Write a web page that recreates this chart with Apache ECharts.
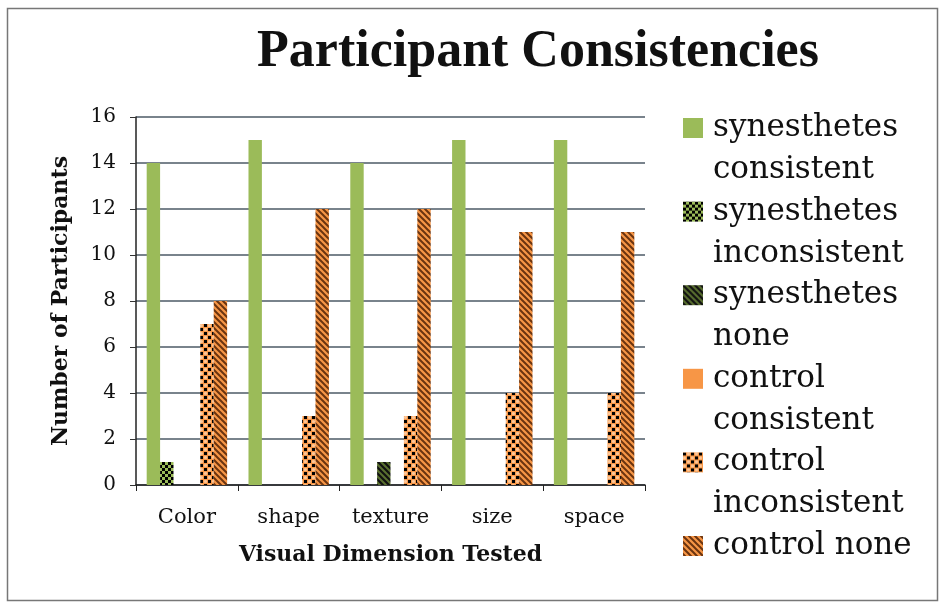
<!DOCTYPE html>
<html>
<head>
<meta charset="utf-8">
<script src="https://cdn.jsdelivr.net/npm/echarts@6/dist/echarts.min.js"></script>
<style>
  html, body { margin: 0; padding: 0; background: #fff; }
  #chart { width: 940px; height: 603px; }
</style>
</head>
<body>
<div id="chart"></div>
<script>
const categories = ['Color', 'shape', 'texture', 'size', 'space'];
const seriesNames = [
  'synesthetes consistent',
  'synesthetes inconsistent',
  'synesthetes none',
  'control consistent',
  'control inconsistent',
  'control none'
];
const synConsistent = [14, 15, 14, 15, 15];
const synInconsistent = [1, 0, 0, 0, 0];
const synNone = [0, 0, 1, 0, 0];
const ctrlConsistent = [0, 0, 0, 0, 0];
const ctrlInconsistent = [7, 3, 3, 4, 4];
const ctrlNone = [8, 12, 12, 11, 11];
const yTicks = [0, 2, 4, 6, 8, 10, 12, 14, 16];

const GREEN = '#9BBB59';
const ORANGE = '#F79646';

// small canvas tiles for the office style fill patterns
function tile(size, draw) {
  const c = document.createElement('canvas');
  c.width = size;
  c.height = size;
  draw(c.getContext('2d'), size);
  return c;
}

const checkGreen = tile(6, (g, s) => {
  g.fillStyle = GREEN; g.fillRect(0, 0, s, s);
  g.fillStyle = '#000';
  g.fillRect(0, 0, 3, 3);
  g.fillRect(3, 3, 3, 3);
});

const stripeDark = tile(6, (g, s) => {
  g.fillStyle = '#5a7030'; g.fillRect(0, 0, s, s);
  g.strokeStyle = '#111'; g.lineWidth = 2.2;
  g.beginPath();
  g.moveTo(-1, -1); g.lineTo(s + 1, s + 1);
  g.moveTo(-1, s - 1); g.lineTo(1, s + 1);
  g.moveTo(s - 1, -1); g.lineTo(s + 1, 1);
  g.stroke();
});

const dotOrange = tile(8, (g, s) => {
  g.fillStyle = ORANGE; g.fillRect(0, 0, s, s);
  g.fillStyle = '#000';
  g.fillRect(0, 0, 3, 3);
  g.fillRect(4, 4, 3, 3);
  g.fillStyle = '#fbc79a';
  g.beginPath(); g.arc(5.5, 1.5, 1.6, 0, Math.PI * 2); g.fill();
  g.beginPath(); g.arc(1.5, 5.5, 1.6, 0, Math.PI * 2); g.fill();
});

const stripeOrange = tile(6, (g, s) => {
  g.fillStyle = ORANGE; g.fillRect(0, 0, s, s);
  g.strokeStyle = '#6b3410'; g.lineWidth = 2;
  g.beginPath();
  g.moveTo(-1, -1); g.lineTo(s + 1, s + 1);
  g.moveTo(-1, s - 1); g.lineTo(1, s + 1);
  g.moveTo(s - 1, -1); g.lineTo(s + 1, 1);
  g.stroke();
});

const fills = [
  GREEN,
  { image: checkGreen, repeat: 'repeat' },
  { image: stripeDark, repeat: 'repeat' },
  ORANGE,
  { image: dotOrange, repeat: 'repeat' },
  { image: stripeOrange, repeat: 'repeat' }
];
const values = [synConsistent, synInconsistent, synNone, ctrlConsistent, ctrlInconsistent, ctrlNone];

const serif = '"DejaVu Serif", "Liberation Serif", serif';
const titleFont = '"Liberation Serif", serif';

// legend drawn as graphics so the icon sits on the first text line
const legendLines = [
  'synesthetes\nconsistent',
  'synesthetes\ninconsistent',
  'synesthetes\nnone',
  'control\nconsistent',
  'control\ninconsistent',
  'control none'
];
const legendGraphics = [];
legendLines.forEach((txt, i) => {
  const top = 116 + i * 83.6;
  legendGraphics.push({
    type: 'rect',
    left: 683, top: top + 2,
    shape: { width: 20, height: 20 },
    style: { fill: fills[i] }
  });
  legendGraphics.push({
    type: 'text',
    left: 713, top: top - 9,
    style: {
      text: txt,
      font: '31px ' + serif,
      fill: '#111',
      lineHeight: 42
    }
  });
});

const chart = echarts.init(document.getElementById('chart'));
chart.setOption({
  backgroundColor: '#fff',
  animation: false,
  title: {
    text: 'Participant Consistencies',
    left: 533,
    textAlign: 'center',
    top: 22,
    textStyle: { fontFamily: titleFont, fontSize: 52, fontWeight: 'bold', color: '#111' }
  },
  legend: { show: false },
  grid: { left: 136, right: 295, top: 117, bottom: 118 },
  xAxis: {
    type: 'category',
    data: categories,
    name: 'Visual Dimension Tested',
    nameLocation: 'middle',
    nameGap: 59,
    nameTextStyle: { fontFamily: serif, fontSize: 22, fontWeight: 'bold', color: '#111' },
    axisLine: { lineStyle: { color: '#222', width: 1.5 } },
    axisTick: { show: true, length: 6, lineStyle: { color: '#222' } },
    axisLabel: { fontFamily: serif, fontSize: 21, color: '#111', margin: 22 }
  },
  yAxis: {
    type: 'value',
    min: yTicks[0],
    max: yTicks[yTicks.length - 1],
    interval: 2,
    name: 'Number of Participants',
    nameLocation: 'middle',
    nameGap: 64,
    nameTextStyle: { fontFamily: serif, fontSize: 22, fontWeight: 'bold', color: '#111' },
    axisLine: { show: true, lineStyle: { color: '#222', width: 1.5 } },
    axisTick: { show: true, length: 6, lineStyle: { color: '#333' } },
    axisLabel: { fontFamily: serif, fontSize: 20, color: '#111', margin: 20 },
    splitLine: { lineStyle: { color: '#4d5a66', width: 1.5 } }
  },
  series: seriesNames.map((name, i) => ({
    name: name,
    type: 'bar',
    data: values[i],
    barGap: '0%',
    barCategoryGap: '21%',
    itemStyle: { color: fills[i] }
  })),
  graphic: [
    {
      type: 'rect',
      left: 5, top: 6,
      shape: { width: 930, height: 592 },
      style: { fill: 'none', stroke: '#777', lineWidth: 1.5 },
      silent: true
    }
  ].concat(legendGraphics)
});
</script>
</body>
</html>
